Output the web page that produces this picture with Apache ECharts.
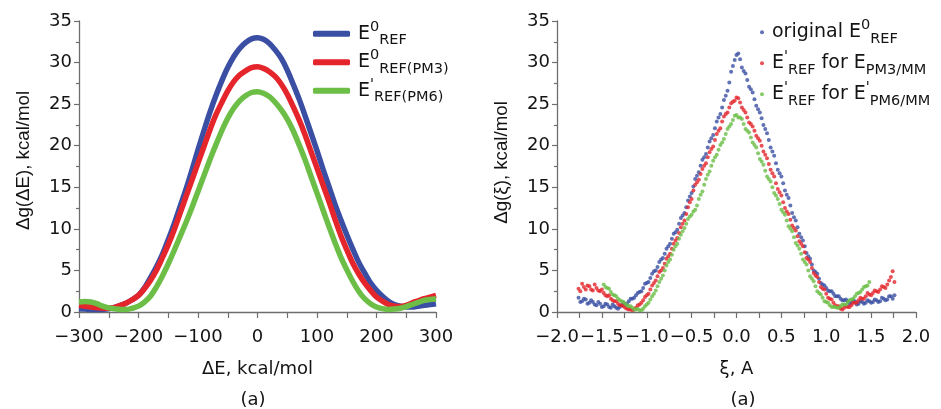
<!DOCTYPE html>
<html><head><meta charset="utf-8">
<script src="https://cdn.jsdelivr.net/npm/echarts@6/dist/echarts.min.js"></script>
<style>html,body{margin:0;padding:0;background:#fff}#c{width:941px;height:409px}</style>
</head><body><div id="c"></div>
<script>
// ---------- Left panel data: Δg(ΔE) vs ΔE ----------
const dE = [-300,-290,-280,-270,-260,-250,-240,-230,-220,-210,-200,-190,-180,-170,-160,-150,-140,-130,-120,-110,-100,-90,-80,-70,-60,-50,-40,-30,-20,-10,0,10,20,30,40,50,60,70,80,90,100,110,120,130,140,150,160,170,180,190,200,210,220,230,240,250,260,270,280,290,300];
const gE0Ref = [0.4,0.35,0.3,0.3,0.3,0.4,0.55,0.8,1.1,1.5,2.0,2.9,4.1,5.4,6.9,8.7,10.6,12.7,14.8,17.1,19.5,21.8,24.0,26.0,27.8,29.4,30.7,31.7,32.4,32.85,33.0,32.8,32.3,31.5,30.5,29.1,27.4,25.6,23.6,21.5,19.4,17.2,15.1,13.0,11.1,9.3,7.6,6.0,4.7,3.5,2.6,1.9,1.3,0.9,0.7,0.6,0.6,0.7,0.8,0.9,1.0];
const gE0RefPM3 = [0.8,0.7,0.6,0.5,0.45,0.45,0.55,0.8,1.1,1.5,2.0,2.8,3.8,5.0,6.5,8.1,9.9,11.9,13.9,15.9,17.9,19.9,21.9,23.7,25.2,26.6,27.7,28.5,29.0,29.4,29.5,29.3,28.9,28.3,27.4,26.2,24.7,23.1,21.3,19.3,17.3,15.3,13.3,11.2,9.2,7.5,5.9,4.6,3.5,2.6,1.8,1.3,0.9,0.7,0.65,0.8,1.1,1.35,1.6,1.8,2.0];
const gERefPM6 = [1.2,1.25,1.2,1.0,0.7,0.5,0.4,0.3,0.3,0.45,0.7,1.2,1.9,3.0,4.3,5.8,7.4,9.1,10.8,12.6,14.5,16.4,18.3,20.1,21.8,23.3,24.5,25.4,26.0,26.4,26.5,26.3,25.9,25.2,24.3,23.2,21.8,20.1,18.3,16.3,14.3,12.3,10.3,8.4,6.6,5.1,3.7,2.5,1.6,1.0,0.6,0.4,0.3,0.35,0.45,0.65,0.9,1.15,1.4,1.5,1.6];

// ---------- Right panel data: Δg(ξ) vs ξ ----------
const xiFull = [-1.76,-1.72,-1.68,-1.64,-1.60,-1.56,-1.52,-1.48,-1.44,-1.40,-1.36,-1.32,-1.28,-1.24,-1.20,-1.16,-1.12,-1.08,-1.04,-1.00,-0.96,-0.92,-0.88,-0.84,-0.80,-0.76,-0.72,-0.68,-0.64,-0.60,-0.56,-0.52,-0.48,-0.44,-0.40,-0.36,-0.32,-0.28,-0.24,-0.20,-0.16,-0.12,-0.08,-0.04,0.00,0.04,0.08,0.12,0.16,0.20,0.24,0.28,0.32,0.36,0.40,0.44,0.48,0.52,0.56,0.60,0.64,0.68,0.72,0.76,0.80,0.84,0.88,0.92,0.96,1.00,1.04,1.08,1.12,1.16,1.20,1.24,1.28,1.32,1.36,1.40,1.44,1.48,1.52,1.56,1.60,1.64,1.68,1.72,1.76];
const xiFullMid = [-1.74,-1.70,-1.66,-1.62,-1.58,-1.54,-1.50,-1.46,-1.42,-1.38,-1.34,-1.30,-1.26,-1.22,-1.18,-1.14,-1.10,-1.06,-1.02,-0.98,-0.94,-0.90,-0.86,-0.82,-0.78,-0.74,-0.70,-0.66,-0.62,-0.58,-0.54,-0.50,-0.46,-0.42,-0.38,-0.34,-0.30,-0.26,-0.22,-0.18,-0.14,-0.10,-0.06,-0.02,0.02,0.06,0.10,0.14,0.18,0.22,0.26,0.30,0.34,0.38,0.42,0.46,0.50,0.54,0.58,0.62,0.66,0.70,0.74,0.78,0.82,0.86,0.90,0.94,0.98,1.02,1.06,1.10,1.14,1.18,1.22,1.26,1.30,1.34,1.38,1.42,1.46,1.50,1.54,1.58,1.62,1.66,1.70,1.74];
const gOrigRef = [1.7,1.3,1.5,1.1,1.2,0.8,1.0,0.7,0.9,0.5,0.7,0.4,0.8,0.9,1.3,1.6,2.0,2.4,2.9,3.5,4.1,4.9,5.4,6.3,7.0,7.9,8.8,9.6,10.6,11.6,12.6,13.9,15.1,16.4,17.6,18.6,19.8,20.9,22.1,23.4,24.6,26.0,27.6,29.6,30.9,30.4,29.0,27.9,26.8,25.6,24.4,23.3,22.0,20.7,19.3,17.9,16.7,15.5,14.1,12.8,11.4,10.2,9.0,7.9,6.7,5.7,4.8,4.0,3.3,2.9,2.5,2.2,1.9,1.6,1.4,1.3,1.1,1.3,1.0,1.2,1.1,1.3,1.2,1.4,1.3,1.6,1.5,1.9,2.0];
const gOrigRefMid = [1.2,1.6,1.0,1.4,0.9,1.2,0.6,1.0,0.6,0.9,0.5,0.6,1.1,1.0,1.6,1.7,2.3,2.5,3.4,3.6,4.6,5.0,6.0,6.5,7.6,8.2,9.4,9.9,11.3,11.9,13.4,14.3,16.0,16.8,18.3,19.0,20.5,21.3,22.9,23.8,25.5,26.6,28.9,30.3,31.1,29.4,28.7,27.1,26.4,24.8,24.0,22.5,21.5,19.8,18.8,17.1,16.3,14.6,13.7,11.9,11.0,9.4,8.6,7.1,6.4,5.0,4.6,3.5,3.2,2.6,2.5,1.9,1.9,1.4,1.5,1.0,1.4,0.9,1.3,1.0,1.4,1.1,1.5,1.2,1.7,1.4,1.9,1.6];
const gRefPM3 = [2.8,3.4,2.7,3.1,2.6,2.9,2.5,2.3,1.9,1.6,1.3,1.0,0.8,0.5,0.3,0.2,0.5,0.9,1.4,2.0,2.7,3.5,4.3,5.0,5.8,6.7,7.6,8.6,9.5,10.6,11.8,13.2,14.6,15.6,16.6,17.6,18.6,19.6,20.7,21.8,22.9,23.8,24.6,25.3,25.8,25.2,24.3,23.4,22.6,21.8,20.9,20.0,18.9,17.8,16.7,15.5,14.4,13.2,12.1,11.1,10.1,9.1,8.2,7.2,6.3,5.3,4.4,3.6,2.8,2.2,1.6,1.1,0.7,0.4,0.5,0.6,0.8,1.1,1.4,1.6,1.9,2.1,2.3,2.5,2.7,3.0,3.3,4.2,3.6];
const gRefPM3Mid = [2.5,3.0,3.2,2.7,3.3,2.6,2.7,2.0,2.0,1.4,1.3,0.8,0.7,0.4,0.3,0.3,0.8,1.1,1.8,2.2,3.2,3.8,4.8,5.3,6.4,7.0,8.2,8.9,10.2,11.0,12.6,13.6,15.3,15.9,17.2,17.9,19.2,19.9,21.4,22.1,23.5,24.0,25.1,25.4,25.7,24.6,24.0,22.8,22.3,21.2,20.6,19.3,18.5,17.1,16.3,14.8,14.0,12.5,11.8,10.4,9.8,8.5,7.9,6.5,6.0,4.7,4.2,3.0,2.7,1.7,1.5,0.8,0.7,0.3,0.7,0.6,1.1,1.1,1.7,1.6,2.3,2.0,2.6,2.4,3.1,2.9,3.8,4.9];
const xiShort = [-1.48,-1.44,-1.40,-1.36,-1.32,-1.28,-1.24,-1.20,-1.16,-1.12,-1.08,-1.04,-1.00,-0.96,-0.92,-0.88,-0.84,-0.80,-0.76,-0.72,-0.68,-0.64,-0.60,-0.56,-0.52,-0.48,-0.44,-0.40,-0.36,-0.32,-0.28,-0.24,-0.20,-0.16,-0.12,-0.08,-0.04,0.00,0.04,0.08,0.12,0.16,0.20,0.24,0.28,0.32,0.36,0.40,0.44,0.48,0.52,0.56,0.60,0.64,0.68,0.72,0.76,0.80,0.84,0.88,0.92,0.96,1.00,1.04,1.08,1.12,1.16,1.20,1.24,1.28,1.32,1.36,1.40,1.44,1.48];
const xiShortMid = [-1.46,-1.42,-1.38,-1.34,-1.30,-1.26,-1.22,-1.18,-1.14,-1.10,-1.06,-1.02,-0.98,-0.94,-0.90,-0.86,-0.82,-0.78,-0.74,-0.70,-0.66,-0.62,-0.58,-0.54,-0.50,-0.46,-0.42,-0.38,-0.34,-0.30,-0.26,-0.22,-0.18,-0.14,-0.10,-0.06,-0.02,0.02,0.06,0.10,0.14,0.18,0.22,0.26,0.30,0.34,0.38,0.42,0.46,0.50,0.54,0.58,0.62,0.66,0.70,0.74,0.78,0.82,0.86,0.90,0.94,0.98,1.02,1.06,1.10,1.14,1.18,1.22,1.26,1.30,1.34,1.38,1.42,1.46];
const gRefPM6 = [3.3,2.9,2.4,2.0,1.6,1.3,1.0,0.7,0.5,0.3,0.2,0.4,0.9,1.5,2.2,3.1,4.0,5.0,6.0,6.9,7.9,8.8,9.7,10.6,11.5,12.1,12.8,14.1,15.3,16.5,17.6,18.6,19.5,20.4,21.4,22.3,23.1,23.7,23.4,22.6,21.8,21.0,20.1,19.1,18.1,17.0,16.0,15.0,14.0,13.0,12.0,11.0,10.0,9.0,8.0,7.0,6.0,5.0,4.0,3.1,2.3,1.7,1.2,0.8,0.6,0.5,0.7,0.9,1.2,1.5,1.9,2.3,2.7,3.1,3.6];
const gRefPM6Mid = [3.0,2.8,2.1,1.9,1.4,1.2,0.8,0.7,0.3,0.4,0.2,0.7,1.1,1.9,2.6,3.6,4.4,5.6,6.3,7.5,8.2,9.3,10.1,11.2,11.7,12.3,13.6,14.5,16.0,16.9,18.2,18.9,20.1,20.8,22.0,22.6,23.6,23.4,23.2,22.0,21.6,20.4,19.8,18.4,17.7,16.3,15.7,14.3,13.6,12.3,11.7,10.3,9.7,8.3,7.6,6.3,5.7,4.3,3.7,2.5,2.1,1.3,1.1,0.6,0.6,0.5,0.9,0.9,1.4,1.6,2.2,2.4,3.0,3.2];

// ---------- Names / labels ----------
const leftNames = ['E0REF', 'E0REF(PM3)', "E'REF(PM6)"];
const rightNames = ['original E0REF', "E'REF for EPM3/MM", "E'REF for E'PM6/MM"];
const legendRich = {
  'E0REF': '{b0|E}{p|0}{s|REF}',
  'E0REF(PM3)': '{b0|E}{p|0}{s|REF(PM3)}',
  "E'REF(PM6)": "{b0|E}{p|'}{s|REF(PM6)}",
  'original E0REF': '{b0|original E}{p|0}{s|REF}',
  "E'REF for EPM3/MM": "{b0|E}{p|'}{s|REF}{b| for E}{s|PM3/MM}",
  "E'REF for E'PM6/MM": "{b0|E}{p|'}{s|REF}{b| for E}{p|'}{s|PM6/MM}"
};
const panelTags = ['(a)', '(a)'];
const leftXName = 'ΔE, kcal/mol', leftYName = 'Δg(ΔE), kcal/mol';
const rightXName = 'ξ, A', rightYName = 'Δg(ξ), kcal/mol';

const colors = ['#3a4fa3', '#e4252c', '#6cbe47'];
const FONT = '"DejaVu Sans", Verdana, sans-serif';
const FONT_V = '"Liberation Sans", Arial, Helvetica, sans-serif';
const TXT = '#141414';
const AX = '#6e6e6e';

function pairs(xs, ys) { return xs.map((x, i) => [x, ys[i]]); }
const minus = s => String(s).replace('-', '\u2212');

const rich = {
  b0: {fontSize: 19, fontFamily: FONT, color: TXT, lineHeight: 28.5, verticalAlign: 'middle', padding: [0, 0, 0, 3]},
  b: {fontSize: 19, fontFamily: FONT, color: TXT, lineHeight: 28.5, verticalAlign: 'middle'},
  p: {fontSize: 14.5, fontFamily: FONT, color: TXT, lineHeight: 20, verticalAlign: 'top'},
  s: {fontSize: 14.5, fontFamily: FONT, color: TXT, lineHeight: 9.3, verticalAlign: 'bottom'}
};

function xAxisOf(gi, min, max, interval, name, fmt) {
  return {
    type: 'value', gridIndex: gi, min, max, interval,
    name, nameLocation: 'middle', nameGap: 48,
    nameTextStyle: {color: TXT, fontSize: 18, fontFamily: FONT},
    axisLine: {show: true, onZero: false, lineStyle: {color: AX, width: 1.3}},
    axisTick: {show: true, inside: false, length: 6, lineStyle: {color: AX, width: 1.2}},
    minorTick: {show: true, splitNumber: 2, length: 6, lineStyle: {color: AX, width: 1.2}},
    splitLine: {show: false}, minorSplitLine: {show: false},
    axisLabel: {color: TXT, fontSize: 18, fontFamily: FONT, margin: 16, formatter: fmt}
  };
}
function yAxisOf(gi, name, shift) {
  return {
    type: 'value', gridIndex: gi, min: 0, max: 35, interval: 5,
    name, nameLocation: 'middle', nameGap: 46, nameRotate: 90,
    nameTextStyle: {color: TXT, fontSize: 18.7, fontFamily: FONT_V, padding: [0, 0, 0, shift]},
    axisLine: {show: true, onZero: false, lineStyle: {color: AX, width: 1.3}},
    axisTick: {show: true, inside: false, length: 5, lineStyle: {color: AX, width: 1.2}},
    minorTick: {show: true, splitNumber: 2, length: 3, lineStyle: {color: AX, width: 1.2}},
    splitLine: {show: false}, minorSplitLine: {show: false},
    axisLabel: {color: TXT, fontSize: 18, fontFamily: FONT, margin: 7}
  };
}

const leftSeriesData = [gE0Ref, gE0RefPM3, gERefPM6];
const rightSeriesData = [
  pairs(xiFull, gOrigRef).concat(pairs(xiFullMid, gOrigRefMid)),
  pairs(xiFull, gRefPM3).concat(pairs(xiFullMid, gRefPM3Mid)),
  pairs(xiShort, gRefPM6).concat(pairs(xiShortMid, gRefPM6Mid))
];

const series = [];
leftNames.forEach((n, i) => series.push({
  name: n, type: 'line', xAxisIndex: 0, yAxisIndex: 0,
  data: pairs(dE, leftSeriesData[i]), showSymbol: false, smooth: 0.3,
  lineStyle: {color: colors[i], width: 5.5, join: 'round'}, itemStyle: {color: colors[i]}, z: 2 + i
}));
rightNames.forEach((n, i) => series.push({
  name: n, type: 'scatter', xAxisIndex: 1, yAxisIndex: 1,
  data: rightSeriesData[i], symbolSize: 4,
  itemStyle: {color: colors[i]}, z: 2 + i
}));

const chart = echarts.init(document.getElementById('c'), null, {renderer: 'canvas'});
chart.setOption({
  animation: false,
  backgroundColor: '#ffffff',
  textStyle: {fontFamily: FONT},
  title: [
    {text: panelTags[0], left: 253, top: 391, textAlign: 'center', padding: 0, textStyle: {fontSize: 18, fontWeight: 'normal', fontFamily: FONT, color: TXT}},
    {text: panelTags[1], left: 743, top: 391, textAlign: 'center', padding: 0, textStyle: {fontSize: 18, fontWeight: 'normal', fontFamily: FONT, color: TXT}}
  ],
  grid: [
    {left: 79, top: 21, width: 357, height: 291, outerBoundsMode: 'none'},
    {left: 557, top: 21, width: 359, height: 291, outerBoundsMode: 'none'}
  ],
  xAxis: [
    xAxisOf(0, -300, 300, 100, leftXName, v => minus(v)),
    xAxisOf(1, -2, 2, 0.5, rightXName, v => minus(Number(v).toFixed(1)))
  ],
  yAxis: [yAxisOf(0, leftYName, 12), yAxisOf(1, rightYName, 8)],
  legend: [
    {data: leftNames, orient: 'vertical', left: 313, top: 19.5, padding: 0, itemGap: 0,
     icon: 'roundRect', itemWidth: 37, itemHeight: 6,
     formatter: n => legendRich[n], textStyle: {rich}},
    {data: rightNames, orient: 'vertical', left: 760, top: 18, padding: 0, itemGap: 2.5,
     icon: 'circle', itemWidth: 4, itemHeight: 4,
     formatter: n => legendRich[n], textStyle: {rich}}
  ],
  series
});
</script></body></html>
